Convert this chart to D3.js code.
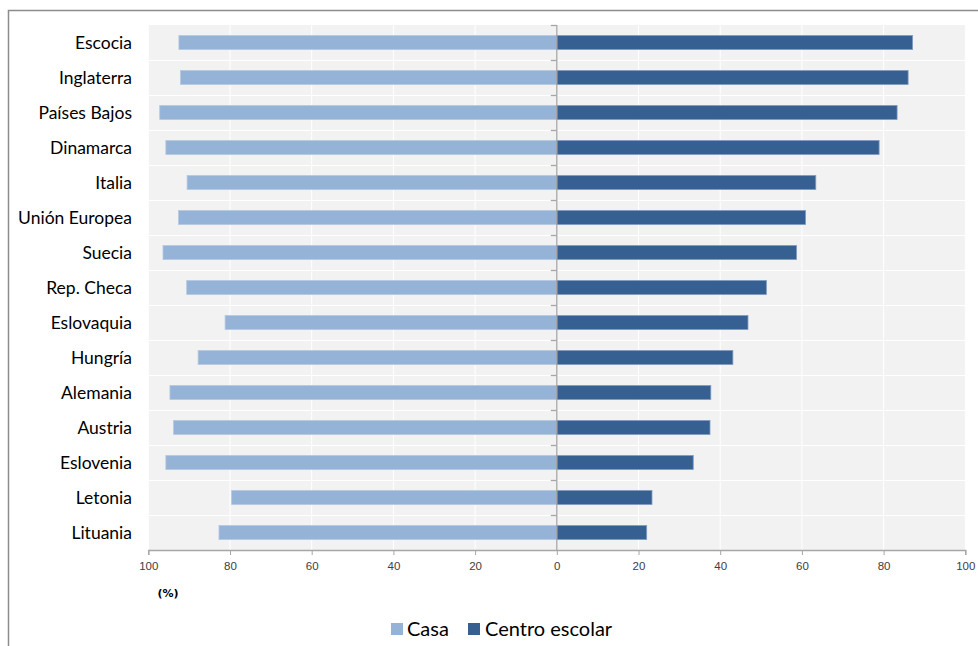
<!DOCTYPE html>
<html><head><meta charset="utf-8">
<script src="https://cdn.jsdelivr.net/npm/d3@7"></script>
<style>body{margin:0;background:#fff}svg{display:block}</style>
</head><body>
<svg id="c" width="978" height="646"></svg>
<script>
const categories = ["Escocia","Inglaterra","Países Bajos","Dinamarca","Italia","Unión Europea","Suecia","Rep. Checa","Eslovaquia","Hungría","Alemania","Austria","Eslovenia","Letonia","Lituania"];
const casa = [92.5,92.1,97.2,95.7,90.5,92.6,96.4,90.6,81.2,87.8,94.7,93.8,95.7,79.6,82.7];
const centro = [87.1,86.0,83.3,78.9,63.4,60.9,58.7,51.3,46.8,43.1,37.7,37.5,33.4,23.3,22.0];
const seriesNames = ["Casa","Centro escolar"];
const tickValues = [-100,-80,-60,-40,-20,0,20,40,60,80,100];

const svg = d3.select("#c");
const L=148.3, R=965.3, T=25, B=550;
const x = d3.scaleLinear().domain([-100,100]).range([L,R]);
const y = d3.scaleBand().domain(categories).range([T,B]);
const barH = 14;
const colCasa="#95b3d7", colCentro="#376092";
const labelFont = "Lato, 'Gill Sans', 'Open Sans', sans-serif";

// frame
svg.append("path").attr("d",`M8.5,700 V10.5 H990`).attr("fill","none").attr("stroke","#8c8c8c").attr("stroke-width",1.5);

// plot background
svg.append("rect").attr("x",L).attr("y",T).attr("width",R-L).attr("height",B-T).attr("fill","#f2f2f2");

// grid
svg.append("g").selectAll("line").data(tickValues).join("line")
  .attr("x1",d=>x(d)).attr("x2",d=>x(d)).attr("y1",T).attr("y2",B)
  .attr("stroke","#fff").attr("stroke-width",1);
svg.append("g").selectAll("line").data(categories.slice(1)).join("line")
  .attr("x1",L).attr("x2",R).attr("y1",d=>Math.round(y(d))+0.5).attr("y2",d=>Math.round(y(d))+0.5)
  .attr("stroke","#fff").attr("stroke-width",1);

// bars
const yc = d=>y(d)+y.bandwidth()/2 - barH/2;
svg.append("g").selectAll("rect").data(categories).join("rect")
  .attr("x",(d,i)=>x(-casa[i])).attr("y",yc).attr("width",(d,i)=>x(0)-x(-casa[i])).attr("height",barH)
  .attr("fill",colCasa).attr("stroke","#b3c8e2").attr("stroke-width",0.8);
svg.append("g").selectAll("rect").data(categories).join("rect")
  .attr("x",x(0)).attr("y",yc).attr("width",(d,i)=>x(centro[i])-x(0)).attr("height",barH)
  .attr("fill",colCentro).attr("stroke","#7f9bc0").attr("stroke-width",0.8);

// bottom axis
const xAxis = d3.axisBottom(x).tickValues(tickValues).tickFormat(d=>Math.abs(d)).tickSize(5).tickPadding(7);
const gx = svg.append("g").attr("transform",`translate(0,${B})`).call(xAxis);
gx.select(".domain").attr("stroke","#a6a6a6").attr("stroke-width",1.3);
gx.selectAll(".tick line").attr("stroke","#a6a6a6");
gx.selectAll("text").attr("fill","#404040").style("font-family","'Liberation Sans', Arial, sans-serif").style("font-size","11.5px");

// center axis
svg.append("line").attr("x1",x(0)).attr("x2",x(0)).attr("y1",T).attr("y2",B).attr("stroke","#a6a6a6").attr("stroke-width",1.3);
svg.append("g").selectAll("line").data(categories).join("line")
  .attr("x1",x(0)-6).attr("x2",x(0)).attr("y1",d=>Math.round(y(d))+0.5).attr("y2",d=>Math.round(y(d))+0.5)
  .attr("stroke","#a6a6a6").attr("stroke-width",1.3);

// category labels
svg.append("g").selectAll("text").data(categories).join("text")
  .attr("x",132).attr("y",d=>y(d)+y.bandwidth()/2).attr("dy","0.35em")
  .attr("text-anchor","end").attr("fill","#000")
  .style("font-family",labelFont).style("font-size","17.5px").text(d=>d);

// (%)
svg.append("text").attr("x",168).attr("y",597).attr("text-anchor","middle")
  .style("font-family","'DejaVu Sans', Verdana, sans-serif").style("font-size","11px").style("font-weight","bold").attr("fill","#000").text("(%)");

// legend
const leg = svg.append("g");
const legItems = [{n:seriesNames[0],c:colCasa,sx:391,tx:407},{n:seriesNames[1],c:colCentro,sx:468,tx:485}];
legItems.forEach(it=>{
  leg.append("rect").attr("x",it.sx).attr("y",623).attr("width",12).attr("height",12).attr("fill",it.c);
  leg.append("text").attr("x",it.tx).attr("y",629).attr("dy","0.35em").attr("fill","#000")
    .style("font-family",labelFont).style("font-size","20px").text(it.n);
});
</script>
</body></html>
